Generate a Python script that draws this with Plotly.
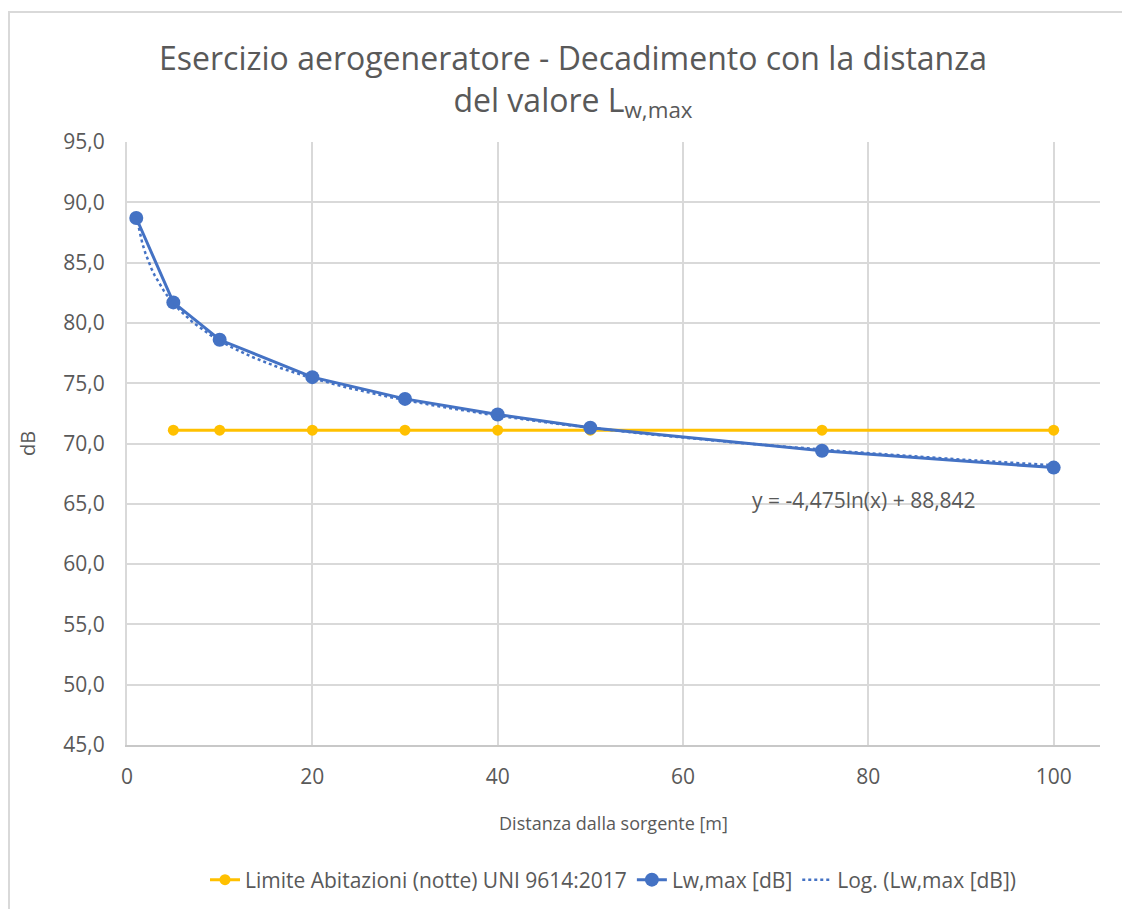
import numpy as np
import plotly.graph_objects as go

# Data
dist_limit = [5, 10, 20, 30, 40, 50, 75, 100]
limit_vals = [71.1, 71.1, 71.1, 71.1, 71.1, 71.1, 71.1, 71.1]
dist_lw = [1, 5, 10, 20, 30, 40, 50, 75, 100]
lw_vals = [88.7, 81.7, 78.6, 75.5, 73.7, 72.4, 71.3, 69.4, 68.0]
x_ticks = [0, 20, 40, 60, 80, 100]
y_ticks = [45, 50, 55, 60, 65, 70, 75, 80, 85, 90, 95]

# Logarithmic trendline fitted from the data (as Excel does)
b, a = np.polyfit(np.log(dist_lw), lw_vals, 1)
xt = np.linspace(min(dist_lw), max(dist_lw), 300)
yt = b * np.log(xt) + a

FONT = "Open Sans"
GRAY = "#595959"

W, H = 1130, 909
L, R, T, B = 119, 38, 134, 172
PW, PH = W - L - R, H - T - B

fig = go.Figure()
fig.add_trace(go.Scatter(
    x=dist_limit, y=limit_vals, mode="lines+markers",
    name="Limite Abitazioni (notte) UNI 9614:2017",
    line=dict(color="#FFC000", width=3),
    marker=dict(color="#FFC000", size=11),
))
fig.add_trace(go.Scatter(
    x=dist_lw, y=lw_vals, mode="lines+markers",
    name="Lw,max [dB]",
    line=dict(color="#4472C4", width=3),
    marker=dict(color="#4472C4", size=14),
))
fig.add_trace(go.Scatter(
    x=xt, y=yt, mode="lines",
    name="Log. (Lw,max [dB])",
    line=dict(color="#4472C4", width=2.5, dash="dot"),
))

fig.add_annotation(
    x=79.5, y=65.3, xref="x", yref="y",
    text="y = -4,475ln(x) + 88,842", showarrow=False,
    font=dict(family=FONT, size=21, color=GRAY),
)

# outer chart border
fig.add_shape(
    type="rect", xref="paper", yref="paper",
    x0=-(L - 1) / PW, x1=1 + (R + 20) / PW,
    y0=-(B + 20) / PH, y1=1 + (T - 4) / PH,
    line=dict(color="#D9D9D9", width=2), fillcolor="rgba(0,0,0,0)",
    layer="below",
)

fig.update_layout(
    width=W, height=H,
    paper_bgcolor="white", plot_bgcolor="white",
    separators=",.",
    margin=dict(l=L, r=R, t=T, b=B, autoexpand=False),
    title=dict(
        text="Esercizio aerogeneratore - Decadimento con la distanza<br>del valore L<sub>w,max</sub>",
        x=0.5, xanchor="center", y=1 - 62 / H, yanchor="top",
        font=dict(family=FONT, size=32, color=GRAY),
    ),
    font=dict(family=FONT, color=GRAY),
    legend=dict(
        orientation="h", x=0.5, xanchor="center", y=-(880 - 8 - (H - B)) / PH, yanchor="middle",
        font=dict(family=FONT, size=21, color=GRAY),
        traceorder="normal",
    ),
    showlegend=True,
)
fig.update_xaxes(
    range=[0, 105], tickvals=x_ticks,
    showgrid=True, gridcolor="#D9D9D9", gridwidth=2,
    showline=True, linecolor="#C8C8C8", linewidth=2,
    zeroline=False, ticks="", ticklabelstandoff=12,
    tickfont=dict(family=FONT, size=21, color=GRAY),
    title=dict(text="Distanza dalla sorgente [m]", font=dict(family=FONT, size=18, color=GRAY), standoff=28),
)
fig.update_yaxes(
    range=[45, 95], tickvals=y_ticks, tickformat=".1f",
    showgrid=True, gridcolor="#D9D9D9", gridwidth=2,
    showline=True, linecolor="#D9D9D9", linewidth=2,
    zeroline=False, ticks="", ticklabelstandoff=16,
    tickfont=dict(family=FONT, size=21, color=GRAY),
    title=dict(text="dB", font=dict(family=FONT, size=20, color=GRAY), standoff=22),
)

fig.write_html("out.html")
